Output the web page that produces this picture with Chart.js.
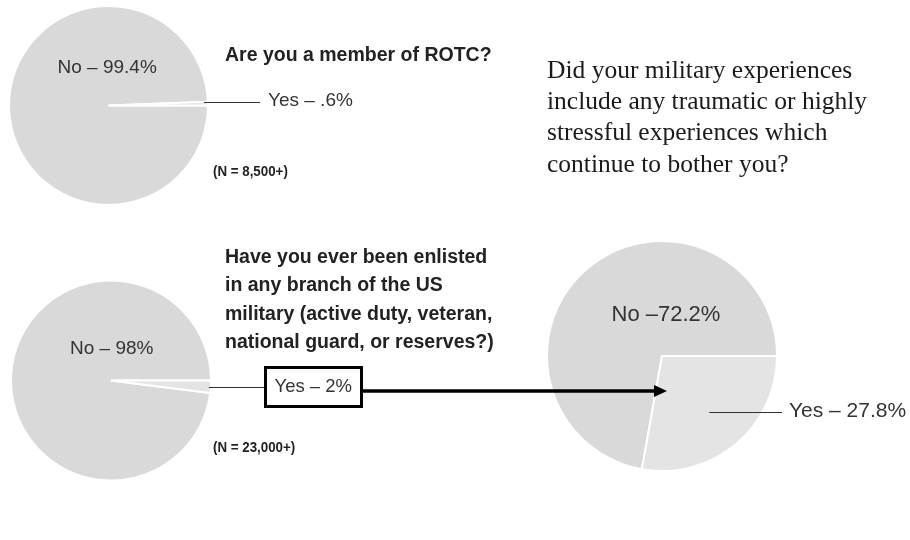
<!DOCTYPE html>
<html>
<head>
<meta charset="utf-8">
<script src="https://cdn.jsdelivr.net/npm/chart.js"></script>
<style>
    html, body { margin: 0; padding: 0; background: #fff; }
    #page { position: relative; width: 910px; height: 540px; overflow: hidden; }
    #page canvas, #page svg, .txt { position: absolute; }
    .txt { white-space: pre; color: #333; }
    .box { position: absolute; border: 3px solid #000; box-sizing: border-box; background: #fff; }
</style>
</head>
<body>
<div id="page"></div>
<script>
// data
const categories = ['No', 'Yes'];
const rotcValues = [99.4, 0.6];
const enlistedValues = [98, 2];
const stressValues = [72.2, 27.8];
const sliceColors = ['#d9d9d9', '#e4e4e4'];

const rotcLabels = ['No – 99.4%', 'Yes – .6%'];
const enlistedLabels = ['No – 98%', 'Yes – 2%'];
const stressLabels = ['No –72.2%', 'Yes – 27.8%'];

const rotcQuestion = 'Are you a member of ROTC?';
const enlistedQuestion = 'Have you ever been enlisted\nin any branch of the US\nmilitary (active duty, veteran,\nnational guard, or reserves?)';
const stressQuestion = 'Did your military experiences\ninclude any traumatic or highly\nstressful experiences which\ncontinue to bother you?';
const rotcSample = '(N = 8,500+)';
const enlistedSample = '(N = 23,000+)';

const page = document.getElementById('page');
const SANS = '"Liberation Sans", Arial, sans-serif';
const SERIF = '"Liberation Serif", "Times New Roman", serif';

// place a text block so its first baseline sits at `baseline`
function addText(text, x, baseline, o) {
    const size = o.size;
    const lh = o.lh || size * 1.2;
    const asc = o.serif ? 0.891 : 0.905;
    const tot = o.serif ? 1.107 : 1.117;
    const el = document.createElement('div');
    el.className = 'txt';
    el.textContent = text;
    el.style.fontFamily = o.family || SANS;
    el.style.fontSize = size + 'px';
    el.style.lineHeight = lh + 'px';
    el.style.fontWeight = o.bold ? 'bold' : 'normal';
    if (o.color) el.style.color = o.color;
    if (o.squeeze) {
        el.style.transformOrigin = '0 0';
        el.style.transform = 'scaleX(' + o.squeeze + ')';
    }
    el.style.top = (baseline - ((lh - tot * size) / 2 + asc * size)) + 'px';
    page.appendChild(el);
    if (o.align === 'center') {
        el.style.left = (x - el.offsetWidth / 2) + 'px';
    } else {
        el.style.left = x + 'px';
    }
    return el;
}

const leaderPlugin = {
    id: 'leader',
    afterDatasetsDraw(chart, args, opts) {
        if (!opts || opts.index === undefined) return;
        const arc = chart.getDatasetMeta(0).data[opts.index];
        const ang = arc.startAngle + (arc.endAngle - arc.startAngle) * opts.at;
        const r = arc.outerRadius * opts.from;
        const x0 = arc.x + Math.cos(ang) * r;
        const y0 = Math.round(arc.y + Math.sin(ang) * r) + 0.5;
        const ctx = chart.ctx;
        ctx.save();
        ctx.strokeStyle = '#333';
        ctx.lineWidth = 1;
        ctx.beginPath();
        ctx.moveTo(x0, y0);
        ctx.lineTo(opts.toX - opts.left, y0);
        ctx.stroke();
        ctx.restore();
    }
};

function makePie(box, center, radius, values, rotation, leader) {
    const canvas = document.createElement('canvas');
    canvas.width = box.w;
    canvas.height = box.h;
    canvas.style.left = box.x + 'px';
    canvas.style.top = box.y + 'px';
    canvas.style.width = box.w + 'px';
    canvas.style.height = box.h + 'px';
    page.appendChild(canvas);
    const half = Math.min(center.x - box.x, box.x + box.w - center.x,
                          center.y - box.y, box.y + box.h - center.y);
    new Chart(canvas.getContext('2d'), {
        type: 'pie',
        data: {
            labels: categories,
            datasets: [{
                data: values,
                backgroundColor: sliceColors,
                borderColor: '#ffffff',
                borderWidth: 2,
                radius: radius,
                clip: false
            }]
        },
        options: {
            responsive: false,
            animation: false,
            events: [],
            rotation: rotation,
            layout: {
                padding: {
                    left: center.x - box.x - half,
                    right: box.x + box.w - center.x - half,
                    top: center.y - box.y - half,
                    bottom: box.y + box.h - center.y - half
                }
            },
            plugins: {
                legend: { display: false },
                tooltip: { enabled: false },
                leader: Object.assign({ left: box.x }, leader)
            }
        },
        plugins: [leaderPlugin]
    });
}

// pies
makePie({ x: 0, y: 0, w: 270, h: 215 }, { x: 108.5, y: 105.5 }, 99.5,
        rotcValues, 90, { index: 1, at: 0, from: 0.96, toX: 260 });
makePie({ x: 0, y: 270, w: 270, h: 220 }, { x: 111, y: 380.5 }, 100,
        enlistedValues, 90 + enlistedValues[1] * 3.6, { index: 1, at: 0.5, from: 0.98, toX: 264 });
makePie({ x: 540, y: 235, w: 250, h: 245 }, { x: 662, y: 356 }, 115,
        stressValues, 90 + stressValues[1] * 3.6, { index: 1, at: 0.5, from: 0.64, toX: 782 });

// arrow from the "Yes" box to the third pie
const svgNS = 'http://www.w3.org/2000/svg';
const svg = document.createElementNS(svgNS, 'svg');
svg.setAttribute('width', 910);
svg.setAttribute('height', 540);
svg.style.left = '0px';
svg.style.top = '0px';
svg.innerHTML =
    '<line x1="362" y1="391" x2="656" y2="391" stroke="#000" stroke-width="3.5"/>' +
    '<polygon points="654,385 667,391 654,397" fill="#000"/>';
page.appendChild(svg);

const box = document.createElement('div');
box.className = 'box';
box.style.left = '264px';
box.style.top = '366px';
box.style.width = '99px';
box.style.height = '42px';
page.appendChild(box);

// labels
addText(rotcLabels[0], 107, 74, { size: 19, align: 'center' });
addText(rotcLabels[1], 268, 106.5, { size: 19 });
addText(rotcQuestion, 225, 61.5, { size: 19.5, bold: true, color: '#222' });
addText(rotcSample, 213, 176.5, { size: 15.5, bold: true, squeeze: 0.86, color: '#222' });

addText(stressQuestion, 547, 78, { size: 25.5, lh: 31.3, serif: true, family: SERIF, color: '#1a1a1a' });

addText(enlistedQuestion, 225, 263, { size: 19.5, lh: 28.4, bold: true, color: '#222' });
addText(enlistedLabels[0], 111.5, 355, { size: 19, align: 'center' });
addText(enlistedLabels[1], 313.5, 393, { size: 18.5, align: 'center' });
addText(enlistedSample, 213, 452.5, { size: 15.5, bold: true, squeeze: 0.86, color: '#222' });

addText(stressLabels[0], 666, 322, { size: 22, align: 'center' });
addText(stressLabels[1], 789, 417, { size: 21 });
</script>
</body>
</html>
